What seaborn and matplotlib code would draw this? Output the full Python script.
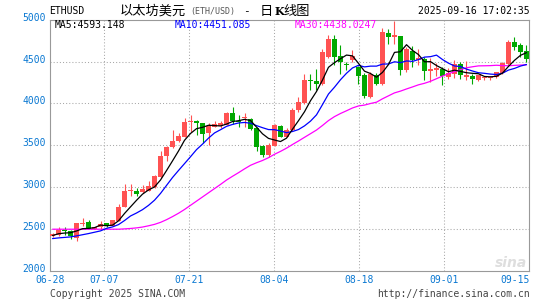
import numpy as np
import pandas as pd
import matplotlib
matplotlib.use("Agg")
import matplotlib.pyplot as plt
import matplotlib.transforms as mtrans
import seaborn as sns

# ---------------- data ----------------
tick_labels = ["06-28", "07-07", "07-21", "08-04", "08-18", "09-01", "09-15"]

opens = [2410, 2422, 2478, 2474, 2394, 2556, 2582, 2500, 2520, 2566,
         2534, 2594, 2760, 2946, 2954, 2934, 2954, 2994, 3122, 3366,
         3474, 3546, 3602, 3774, 3790, 3762, 3640, 3722, 3730, 3742,
         3882, 3790, 3826, 3814, 3706, 3494, 3386, 3494, 3734, 3602,
         3682, 3922, 4006, 4270, 4262, 4234, 4554, 4766, 4566, 4470,
         4514, 4434, 4342, 4074, 4342, 4234, 4846, 4800, 4806, 4394,
         4622, 4514, 4534, 4382, 4400, 4414, 4320, 4354, 4474, 4320,
         4330, 4282, 4300, 4305, 4310, 4362, 4474, 4734, 4694, 4626]
highs = [2445, 2520, 2522, 2480, 2570, 2626, 2602, 2525, 2594, 2574,
         2610, 2800, 3030, 3040, 2986, 3026, 3074, 3140, 3434, 3490,
         3682, 3650, 3830, 3866, 3802, 3770, 3760, 3790, 3790, 3894,
         3962, 3866, 3890, 3830, 3720, 3500, 3520, 3750, 3740, 3700,
         3940, 4082, 4354, 4354, 4414, 4654, 4822, 4822, 4694, 4494,
         4634, 4450, 4360, 4374, 4360, 4900, 4894, 4982, 4804, 4680,
         4686, 4654, 4560, 4540, 4480, 4430, 4420, 4520, 4500, 4506,
         4354, 4340, 4330, 4330, 4380, 4490, 4760, 4794, 4720, 4694]
lows = [2400, 2415, 2422, 2375, 2355, 2534, 2496, 2495, 2500, 2520,
        2530, 2590, 2754, 2890, 2890, 2928, 2950, 2990, 3110, 3306,
        3470, 3540, 3598, 3660, 3626, 3522, 3500, 3714, 3700, 3738,
        3754, 3722, 3716, 3680, 3426, 3354, 3354, 3490, 3600, 3596,
        3674, 3894, 3990, 4154, 4154, 4220, 4540, 4462, 4354, 4394,
        4500, 4234, 4060, 4060, 4220, 4220, 4714, 4714, 4334, 4380,
        4440, 4454, 4274, 4260, 4330, 4222, 4290, 4300, 4290, 4274,
        4234, 4270, 4280, 4285, 4300, 4350, 4460, 4640, 4560, 4500]
closes = [2434, 2485, 2470, 2410, 2566, 2572, 2502, 2515, 2562, 2528,
          2606, 2762, 2954, 2958, 2920, 2974, 3014, 3134, 3374, 3482,
          3554, 3606, 3774, 3782, 3770, 3634, 3730, 3754, 3760, 3882,
          3786, 3780, 3836, 3694, 3482, 3386, 3506, 3740, 3602, 3682,
          3926, 4014, 4274, 4262, 4234, 4614, 4774, 4554, 4494, 4454,
          4566, 4326, 4086, 4354, 4234, 4854, 4794, 4814, 4394, 4654,
          4514, 4542, 4382, 4406, 4420, 4326, 4360, 4474, 4334, 4340,
          4290, 4334, 4310, 4315, 4370, 4482, 4734, 4674, 4614, 4530]

# moving-average values before a full window is available
ma5_warmup = [2418, 2440, 2448, 2452]
ma10_warmup = [2382, 2390, 2396, 2402, 2414, 2428, 2442, 2458, 2474]
ma30_warmup = [2494, 2494, 2494, 2494, 2494, 2494, 2494, 2494, 2494, 2494,
               2494, 2494, 2498, 2503, 2510, 2520, 2535, 2552, 2576, 2608,
               2645, 2685, 2730, 2780, 2830, 2880, 2930, 2980, 3030]

ma_texts = ["MA5:4593.148", "MA10:4451.085", "MA30:4438.0247"]
title_time = "2025-09-16 17:02:35"

# ---------------- derived series ----------------
n = len(closes)
df = pd.DataFrame({"i": np.arange(n), "open": opens, "high": highs,
                   "low": lows, "close": closes})


def moving(series, win, warm):
    m = series.rolling(win).mean().to_numpy()
    m[:len(warm)] = warm
    return m


df["ma5"] = moving(df["close"], 5, ma5_warmup)
df["ma10"] = moving(df["close"], 10, ma10_warmup)
df["ma30"] = moving(df["close"], 30, ma30_warmup)

# ---------------- figure ----------------
sns.set_style("white")
plt.rcParams["font.family"] = ["DejaVu Sans Mono", "Noto Sans CJK SC"]

W, H = 545, 300
fig = plt.figure(figsize=(W / 100, H / 100), dpi=100)
L, R, T, B = 50.3, 529.3, 19.8, 270.5
ax = fig.add_axes([L / W, 1 - B / H, (R - L) / W, (B - T) / H])
ax.set_facecolor("white")

UP, DOWN = "#ff5252", "#00a800"
grid_c = "#a8a8a8"

XMIN, XMAX = -0.37, 79.47
ax.set_xlim(XMIN, XMAX)
ax.set_ylim(2000, 5000)

# grid
for yv in [2500, 3000, 3500, 4000, 4500]:
    ax.axhline(yv, color=grid_c, lw=0.75, ls=(0, (1, 2)), zorder=0)
tick_pos = [XMIN] + [8.63 + 14.16 * k for k in range(5)] + [XMAX]
for xv in tick_pos[1:-1]:
    ax.axvline(xv, color=grid_c, lw=0.75, ls=(0, (1, 2)), zorder=0)

# candles
up = df["close"] >= df["open"]
colors = np.where(up, UP, DOWN)
body_bottom = np.minimum(df["open"], df["close"])
body_h = np.maximum(np.abs(df["close"] - df["open"]), 12)
ax.vlines(df["i"], df["low"], df["high"], colors=colors, lw=0.8, zorder=2)
ax.bar(df["i"], body_h, bottom=body_bottom, width=0.78, color=colors,
       linewidth=0, zorder=3)

# moving averages
sns.lineplot(data=df, x="i", y="ma30", color="#ff00ff", lw=0.9, ax=ax, zorder=4)
sns.lineplot(data=df, x="i", y="ma10", color="#0000ff", lw=0.9, ax=ax, zorder=5)
sns.lineplot(data=df, x="i", y="ma5", color="#000000", lw=0.9, ax=ax, zorder=6)

ax.set_xlabel("")
ax.set_ylabel("")
for s in ax.spines.values():
    s.set_color("#999999")
    s.set_linewidth(0.8)

tick_c = "#0a78d2"
ax.set_yticks([2000, 2500, 3000, 3500, 4000, 4500, 5000])
ax.set_yticklabels(["2000", "2500", "3000", "3500", "4000", "4500", "5000"])
ax.set_xticks(tick_pos)
ax.set_xticklabels(tick_labels)
ax.tick_params(axis="both", length=0, labelsize=7, labelcolor=tick_c)
ax.tick_params(axis="y", pad=3)
ax.tick_params(axis="x", pad=3.5)
xt = ax.get_xticklabels()
xt[-1].set_ha("right")
shift_up = mtrans.ScaledTranslation(0, 2 / 100, fig.dpi_scale_trans)
for t in ax.get_yticklabels():
    t.set_va("center")
    t.set_transform(t.get_transform() + shift_up)


def px(x, y):
    return x / W, 1 - y / H


CJK = ["Noto Sans CJK SC", "DejaVu Sans"]
# header
fig.text(*px(49.5, 11.5), "ETHUSD", fontsize=7, color="black", va="center")
fig.text(*px(119.5, 11), "以太坊美元", fontsize=9.5, color="black", va="center", family=CJK)
fig.text(*px(190.5, 11.5), "(ETH/USD)", fontsize=6, color="#555555", va="center")
fig.text(*px(243, 11), "-", fontsize=8, color="black", va="center")
fig.text(*px(259.5, 11), "日", fontsize=9.5, color="black", va="center", family=CJK)
fig.text(*px(274.5, 11.5), "K", fontsize=8, color="black", va="center",
         weight="bold", family=["DejaVu Serif"])
fig.text(*px(283.5, 11), "线图", fontsize=9.5, color="black", va="center", family=CJK)
fig.text(*px(529.5, 11.5), title_time, fontsize=7, color="black", va="center", ha="right")

# MA readouts
fig.text(*px(54.5, 25), ma_texts[0], fontsize=7, color="black", va="center")
fig.text(*px(174.8, 25), ma_texts[1], fontsize=7, color="#0000ff", va="center")
fig.text(*px(294.7, 25), ma_texts[2], fontsize=7, color="#ff00ff", va="center")

# footer
fig.text(*px(49.5, 294), "Copyright 2025 SINA.COM", fontsize=7, color="#444444", va="center")
fig.text(*px(529.5, 294), "http://finance.sina.com.cn", fontsize=7, color="#444444",
         va="center", ha="right")
fig.text(*px(527, 263), "sina", fontsize=10, color="#dedede", va="center", ha="right",
         style="italic", weight="bold", family=["DejaVu Sans"])

fig.savefig("out.png", dpi=100)
